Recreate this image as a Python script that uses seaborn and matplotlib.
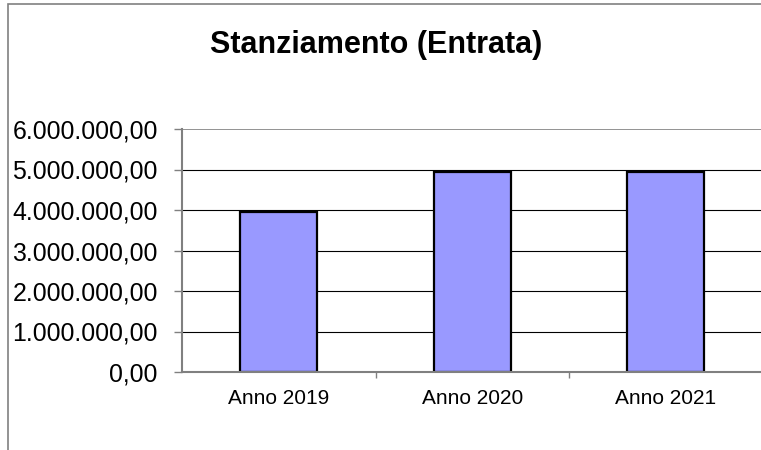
import matplotlib
matplotlib.use("Agg")
import matplotlib.pyplot as plt
import seaborn as sns
import pandas as pd
from matplotlib.patches import Rectangle
from matplotlib.ticker import FuncFormatter, FixedLocator

categories = ["Anno 2019", "Anno 2020", "Anno 2021"]
values = [3945000, 4940000, 4945000]
y_ticks = [0, 1000000, 2000000, 3000000, 4000000, 5000000, 6000000]
title = "Stanziamento (Entrata)"

sns.set_style("white")
plt.rcParams['font.family'] = ['Liberation Sans', 'DejaVu Sans']

W, H = 761, 450
fig = plt.figure(figsize=(W / 100, H / 100), dpi=100)
ax = fig.add_axes([182 / W, 78 / H, 580.5 / W, 243 / H])

df = pd.DataFrame({"cat": categories, "val": values})
sns.barplot(data=df, x="cat", y="val", ax=ax, color="#9999FF", saturation=1,
            width=0.4, edgecolor="black", linewidth=1.6)

ax.set_xlim(-0.5, 2.5)
ax.set_ylim(0, 6000000)
ax.set_xlabel("")
ax.set_ylabel("")

def it_fmt(v, pos):
    s = f"{v:,.2f}"
    return s.replace(",", "X").replace(".", ",").replace("X", ".")

ax.yaxis.set_major_locator(FixedLocator(y_ticks))
ax.yaxis.set_major_formatter(FuncFormatter(it_fmt))
ax.tick_params(axis="y", which="major", length=6, width=1, color="#808080",
               direction="out", pad=11.5, labelsize=17.9, labelcolor="black", left=True)

ax.set_axisbelow(True)
ax.yaxis.grid(True, color="black", linewidth=0.8)
ax.xaxis.grid(False)
gl = ax.get_ygridlines()
gl[-1].set_color("#808080")
gl[-1].set_linewidth(1.2)

ax.tick_params(axis="x", which="major", length=0, pad=12, labelsize=15, labelcolor="black")
ax.set_xticks([0.5, 1.5, 2.5], minor=True)
ax.tick_params(axis="x", which="minor", length=4, width=1, color="#808080", direction="out", bottom=True)

for side in ["top", "right"]:
    ax.spines[side].set_visible(False)
for side in ["left", "bottom"]:
    ax.spines[side].set_color("#808080")
    ax.spines[side].set_linewidth(1.5)

fig.text(376 / W, 1 - 53.5 / H, title, ha="center", va="baseline",
         fontsize=22, fontweight="bold", color="black")

border = Rectangle((7.5 / W, -0.1), 1.2, 1.1 - 3.5 / H, transform=fig.transFigure,
                   fill=False, edgecolor="#808080", linewidth=1.2, clip_on=False)
fig.patches.append(border)

fig.savefig("out.png", dpi=100)
